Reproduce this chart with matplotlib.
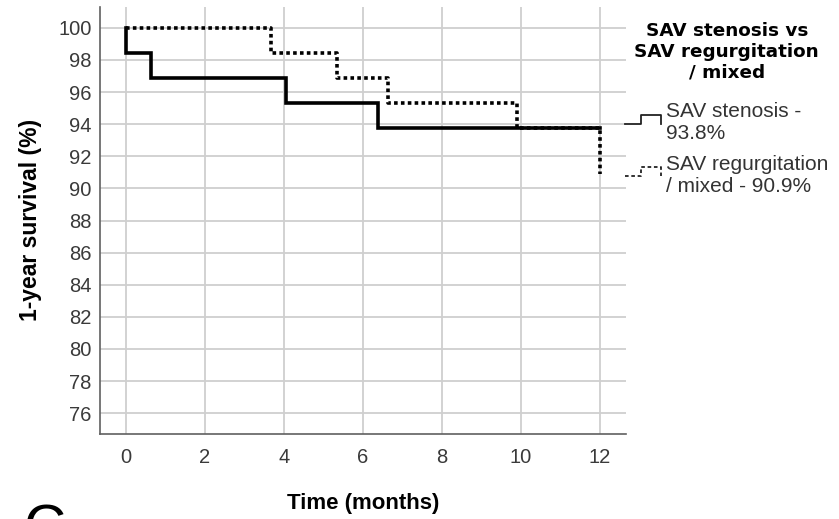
import matplotlib
matplotlib.use("Agg")
import matplotlib.pyplot as plt
from matplotlib.legend_handler import HandlerBase
from matplotlib.lines import Line2D

plt.rcParams['font.family'] = ['Liberation Sans', 'DejaVu Sans']

# Data (Kaplan-Meier step points)
sten_t = [0, 0, 0.63, 4.04, 6.39, 12]
sten_s = [100, 98.44, 96.88, 95.31, 93.75, 93.75]
regu_t = [0, 3.66, 5.35, 6.64, 9.89, 12]
regu_s = [100, 98.44, 96.88, 95.31, 93.75, 90.9]
xticks = [0, 2, 4, 6, 8, 10, 12]
yticks = list(range(76, 101, 2))
legend_title = "SAV stenosis vs\nSAV regurgitation\n/ mixed"
labels = ["SAV stenosis -\n93.8%", "SAV regurgitation\n/ mixed - 90.9%"]

fig = plt.figure(figsize=(8.39, 5.19), dpi=100)
ax = fig.add_axes([100/839, 1-434/519, 526/839, 427/519])

l1, = ax.step(sten_t, sten_s, where='post', color='black', lw=2.6, solid_joinstyle='miter')
l2, = ax.step(regu_t, regu_s, where='post', color='black', lw=2.6, linestyle=(0, (1, 0.9)))

ax.set_xlim(-0.66, 12.66)
ax.set_ylim(74.7, 101.3)
ax.set_xticks(xticks)
ax.set_yticks(yticks)
ax.grid(True, color='#cfcfcf', lw=1.3)
ax.set_axisbelow(True)
for s in ['top', 'right']:
    ax.spines[s].set_visible(False)
for s in ['left', 'bottom']:
    ax.spines[s].set_color('#606060')
    ax.spines[s].set_linewidth(1.2)
ax.tick_params(length=0, labelsize=14.5, labelcolor='#3a3a3a', pad=6)
ax.tick_params(axis='x', pad=10)
ax.set_xlabel("Time (months)", fontsize=16, fontweight='bold')
ax.xaxis.set_label_coords(363/839, 1-503/519, transform=fig.transFigure)
ax.xaxis.label.set_va('center')
ax.set_ylabel("1-year survival (%)", fontsize=16.5, fontweight='bold')
ax.yaxis.set_label_coords(31/839, 1-220/519, transform=fig.transFigure)
ax.yaxis.label.set_va('center')


class StepHandler(HandlerBase):
    def create_artists(self, legend, orig_handle, xdescent, ydescent, width, height, fontsize, trans):
        xs = [0, 0.44, 0.44, 1.0, 1.0]
        ys = [0.47, 0.47, 0.97, 0.97, 0.47]
        x = [v * width - xdescent for v in xs]
        y = [v * height - ydescent for v in ys]
        ln = Line2D(x, y, color='#222222', lw=1.3)
        if orig_handle.get_linestyle() != '-':
            ln.set_dashes((2, 1.5))
        ln.set_transform(trans)
        return [ln]


leg = ax.legend([l1, l2], labels, handler_map={Line2D: StepHandler()},
                loc='upper left', bbox_to_anchor=(625/839, 1-22/519),
                bbox_transform=fig.transFigure, frameon=False,
                title=legend_title, fontsize=15, handlelength=1.73,
                handleheight=1.0, handletextpad=0.24, labelspacing=0.55,
                borderpad=0, borderaxespad=0)
leg.get_title().set_fontweight('bold')
leg.get_title().set_fontsize(13.2)
leg.get_title().set_family('DejaVu Sans')
leg.get_title().set_multialignment('center')
leg._legend_box.align = 'center'
leg._legend_box.sep = 15
for t in leg.get_texts():
    t.set_color('#333333')
    t.set_linespacing(1.2)

fig.text(45/839, 1-531/519, "C", fontsize=42, ha='center', va='center', color='black')

fig.savefig("out.png", dpi=100)
